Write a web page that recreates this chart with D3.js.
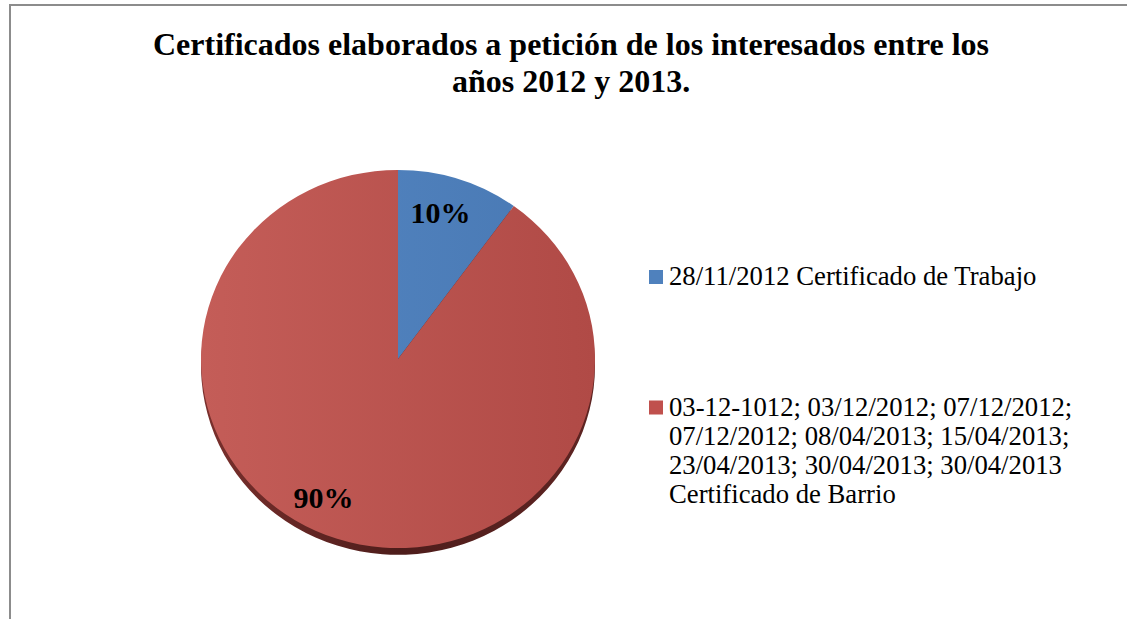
<!DOCTYPE html>
<meta charset="UTF-8">
<style>
body { margin: 0; background: #fff; }
svg { display: block; }
.title { font-family: "Liberation Serif", "Times New Roman", serif; font-weight: bold; font-size: 32px; fill: #000; }
.label { font-family: "Liberation Serif", "Times New Roman", serif; font-weight: bold; font-size: 30px; fill: #000; }
.legend { font-family: "Liberation Serif", "Times New Roman", serif; font-size: 26.7px; fill: #000; }
</style>
<svg width="1127" height="619"></svg>
<script src="https://d3js.org/d3.v7.min.js"></script>
<script>
var titleLines = ["Certificados elaborados a petición de los interesados entre los", "años 2012 y 2013."]
var categories = [
    ["28/11/2012 Certificado de Trabajo"],
    ["03-12-1012; 03/12/2012; 07/12/2012;", "07/12/2012; 08/04/2013; 15/04/2013;", "23/04/2013; 30/04/2013; 30/04/2013", "Certificado de Barrio"]
]
var values = [1, 9]
var colors = ["#4F81BD", "#C0504D"]
var lightColors = ["#5587C3", "#C45D58"]
var darkColors = ["#4878B3", "#B04A46"]

var svg = d3.select("svg")
var defs = svg.append("defs")

// chart frame (only top and left edges show)
svg.append("path")
    .attr("d", "M10,619 L10,5 L1127,5")
    .attr("fill", "none")
    .attr("stroke", "#8C8C8C")
    .attr("stroke-width", 2)

// title
svg.append("g").selectAll("text")
    .data(titleLines)
    .enter()
    .append("text")
    .attr("class", "title")
    .attr("x", 571)
    .attr("y", (d, i) => 55 + i * 37)
    .attr("text-anchor", "middle")
    .text(d => d)

// pie
var cx = 398, cy = 359, r = 197, squash = 0.96, depth = 7
var total = d3.sum(values)
var pie = d3.pie().sort(null).value(d => d)
var arcs = pie(values)
var arc = d3.arc().innerRadius(0).outerRadius(r)
var labelArc = d3.arc().innerRadius(160).outerRadius(160)

colors.forEach((c, i) => {
    var g = defs.append("linearGradient")
        .attr("id", "grad" + i)
        .attr("gradientUnits", "userSpaceOnUse")
        .attr("x1", -r).attr("y1", 0).attr("x2", r).attr("y2", 0)
    g.append("stop").attr("offset", "0%").attr("stop-color", lightColors[i])
    g.append("stop").attr("offset", "100%").attr("stop-color", darkColors[i])
})
var side = defs.append("linearGradient")
    .attr("id", "side")
    .attr("gradientUnits", "userSpaceOnUse")
    .attr("x1", -r).attr("y1", 0).attr("x2", r).attr("y2", 0)
side.append("stop").attr("offset", "0%").attr("stop-color", "#7A302D")
side.append("stop").attr("offset", "50%").attr("stop-color", "#4E1D1B")
side.append("stop").attr("offset", "100%").attr("stop-color", "#5E2422")

var pieG = svg.append("g")
    .attr("transform", "translate(" + cx + "," + cy + ") scale(1," + squash + ")")

// thin 3D side under the disc
pieG.append("g")
    .attr("transform", "translate(0," + depth + ")")
    .selectAll("path")
    .data(arcs)
    .enter()
    .append("path")
    .attr("d", arc)
    .attr("fill", "url(#side)")

pieG.selectAll("path.slice")
    .data(arcs)
    .enter()
    .append("path")
    .attr("class", "slice")
    .attr("d", arc)
    .attr("fill", (d, i) => "url(#grad" + i + ")")

var labelNudge = [[-7, 0], [-25, -7]]
svg.append("g").selectAll("text")
    .data(arcs)
    .enter()
    .append("text")
    .attr("class", "label")
    .attr("text-anchor", "middle")
    .attr("x", (d, i) => cx + labelArc.centroid(d)[0] + labelNudge[i][0])
    .attr("y", (d, i) => cy + labelArc.centroid(d)[1] * squash + 10 + labelNudge[i][1])
    .text(d => Math.round(d.value / total * 100) + "%")

// legend
var legendY = [285, 415.5]
var legend = svg.append("g").selectAll("g")
    .data(categories)
    .enter()
    .append("g")
    .attr("transform", (d, i) => "translate(649," + legendY[i] + ")")

legend.append("rect")
    .attr("x", 0)
    .attr("y", -15)
    .attr("width", 14)
    .attr("height", 14)
    .attr("fill", (d, i) => colors[i])

legend.append("text")
    .attr("class", "legend")
    .selectAll("tspan")
    .data(d => d)
    .enter()
    .append("tspan")
    .attr("x", 20)
    .attr("y", (d, i) => i * 29.3)
    .text(d => d)
</script>
